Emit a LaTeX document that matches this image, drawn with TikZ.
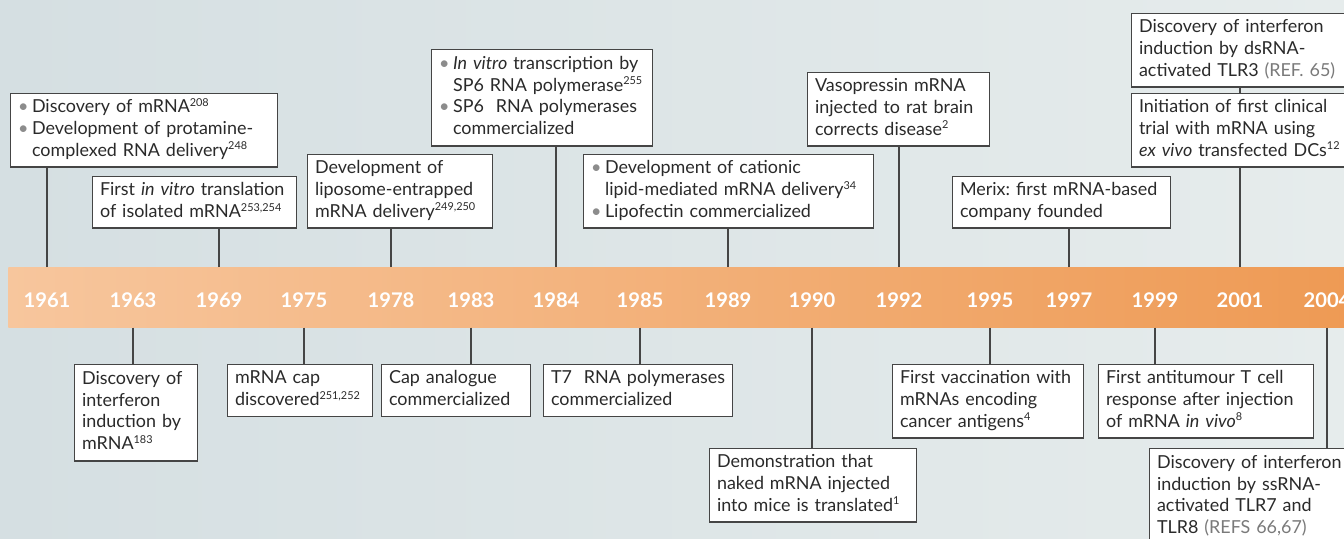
\documentclass[tikz,border=0pt]{standalone}
\usepackage{fontspec}
\setmainfont{Lato}
\frenchspacing
\definecolor{bgleft}{HTML}{D5DFE2}
\definecolor{bgright}{HTML}{E6ECEC}
\definecolor{bandleft}{HTML}{F7C69D}
\definecolor{bandright}{HTML}{EE9A54}
\definecolor{boxgrey}{HTML}{454545}
\definecolor{txt}{HTML}{2A2A2A}
\definecolor{refgrey}{HTML}{7A7A7A}
\definecolor{dotgrey}{HTML}{8C8C8C}
\newcommand\lns[1]{\begin{tabular}{@{}l@{}}#1\end{tabular}}
\newcommand\dotitem{\makebox[0.28cm][l]{\textcolor{dotgrey}{\textbullet}}}
\newcommand\indt{\hspace*{0.28cm}}
\newcommand\sref[1]{\raisebox{0.36em}{\fontsize{6.2}{7}\selectfont #1}}
\newcommand\gref[1]{\textcolor{refgrey}{#1}}
\begin{document}
\begin{tikzpicture}[x=0.02cm, y=-0.02cm,
  evt/.style={draw=boxgrey, line width=0.6pt, fill=white, text=txt, align=left, anchor=north west,
    inner xsep=0.15cm, inner ysep=2pt, font=\fontsize{10.2}{12.35}\selectfont},
  two/.style={minimum height=1.03cm},
  three/.style={minimum height=1.47cm},
  four/.style={minimum height=1.93cm},
  yr/.style={text=white, anchor=base, font=\fontsize{11.5}{13}\selectfont\bfseries},
  tick/.style={draw=boxgrey, line width=0.6pt}]
\useasboundingbox (0,0) rectangle (1344,538);
\clip (0,0) rectangle (1344,538);
\fill[left color=bgleft, right color=bgright] (0,0) rectangle (1344,538);
\node[left color=bandleft, right color=bandright, anchor=north west, inner sep=0pt,
  minimum width=26.92cm, minimum height=1.2cm] (band) at (8,267) {};

\node[yr] (y1961) at (47,307) {1961};
\node[yr] (y1963) at (133,307) {1963};
\node[yr] (y1969) at (219,307) {1969};
\node[yr] (y1975) at (304,307) {1975};
\node[yr] (y1978) at (391,307) {1978};
\node[yr] (y1983) at (471,307) {1983};
\node[yr] (y1984) at (556,307) {1984};
\node[yr] (y1985) at (640,307) {1985};
\node[yr] (y1989) at (728,307) {1989};
\node[yr] (y1990) at (812,307) {1990};
\node[yr] (y1992) at (899,307) {1992};
\node[yr] (y1995) at (990,307) {1995};
\node[yr] (y1997) at (1069,307) {1997};
\node[yr] (y1999) at (1155,307) {1999};
\node[yr] (y2001) at (1240,307) {2001};
\node[yr] (y2004) at (1327,307) {2004};

\node[evt, three, text width=5.04cm] (mrna) at (10,93) {\lns{\dotitem Discovery of mRNA\sref{208}\\ \dotitem Development of protamine-\\ \indt complexed RNA delivery\sref{248}}};
\node[evt, two, text width=3.78cm] (transl) at (92,176) {\lns{First \textit{in vitro} translation\\ of isolated mRNA\sref{253,254}}};
\node[evt, three, text width=3.40cm] (lipo) at (307,154) {\lns{Development of\\ liposome-entrapped\\ mRNA delivery\sref{249,250}}};
\node[evt, four, text width=4.12cm] (sp6) at (431,49) {\lns{\dotitem \textit{In vitro} transcription by\\ \indt SP6 RNA polymerase\sref{255}\\ \dotitem SP6\ \ RNA polymerases\\ \indt commercialized}};
\node[evt, three, text width=5.50cm] (cation) at (583,154) {\lns{\dotitem Development of cationic\\ \indt lipid-mediated mRNA delivery\sref{34}\\ \dotitem Lipofectin commercialized}};
\node[evt, three, text width=3.34cm] (vaso) at (807,72) {\lns{Vasopressin mRNA\\ injected to rat brain\\ corrects disease\sref{2}}};
\node[evt, two, text width=4.06cm] (merix) at (952,176) {\lns{Merix: first mRNA-based\\ company founded}};
\node[evt, three, text width=4.08cm] (tlr3) at (1131,13) {\lns{Discovery of interferon\\ induction by dsRNA-\\ activated TLR3 \gref{(REF. 65)}}};
\node[evt, three, text width=4.08cm] (trial) at (1131,93) {\lns{Initiation of first clinical\\ trial with mRNA using\\ \textit{ex vivo} transfected DCs\sref{12}}};

\node[evt, four, text width=2.16cm] (ifn) at (74,364) {\lns{Discovery of\\ interferon\\ induction by\\ mRNA\sref{183}}};
\node[evt, two, text width=2.60cm] (cap) at (227,364) {\lns{mRNA cap\\ discovered\sref{251,252}}};
\node[evt, two, text width=2.68cm] (capan) at (381,364) {\lns{Cap analogue\\ commercialized}};
\node[evt, two, text width=3.48cm] (t7) at (543,364) {\lns{T7\ \ RNA polymerases\\ commercialized}};
\node[evt, three, text width=3.84cm] (naked) at (709,448) {\lns{Demonstration that\\ naked mRNA injected\\ into mice is translated\sref{1}}};
\node[evt, three, text width=3.52cm] (vacc) at (892,364) {\lns{First vaccination with\\ mRNAs encoding\\ cancer antigens\sref{4}}};
\node[evt, three, text width=4.00cm] (tcell) at (1098,364) {\lns{First antitumour T cell\\ response after injection\\ of mRNA \textit{in vivo}\sref{8}}};
\node[evt, four, text width=3.80cm] (tlr7) at (1149,448) {\lns{Discovery of interferon\\ induction by ssRNA-\\ activated TLR7 and\\ TLR8 \gref{(REFS 66,67)}}};

\path[tick] (y1961 |- band.north) edge (y1961 |- mrna.south);
\path[tick] (y1969 |- band.north) edge (y1969 |- transl.south);
\path[tick] (y1978 |- band.north) edge (y1978 |- lipo.south);
\path[tick] (y1984 |- band.north) edge (y1984 |- sp6.south);
\path[tick] (y1989 |- band.north) edge (y1989 |- cation.south);
\path[tick] (y1992 |- band.north) edge (y1992 |- vaso.south);
\path[tick] (y1997 |- band.north) edge (y1997 |- merix.south);
\path[tick] (y2001 |- band.north) edge (y2001 |- trial.south);
\path[tick] (y2001 |- trial.north) edge (y2001 |- tlr3.south);
\path[tick] (y1963 |- band.south) edge (y1963 |- ifn.north);
\path[tick] (y1975 |- band.south) edge (y1975 |- cap.north);
\path[tick] (y1983 |- band.south) edge (y1983 |- capan.north);
\path[tick] (y1985 |- band.south) edge (y1985 |- t7.north);
\path[tick] (y1990 |- band.south) edge (y1990 |- naked.north);
\path[tick] (y1995 |- band.south) edge (y1995 |- vacc.north);
\path[tick] (y1999 |- band.south) edge (y1999 |- tcell.north);
\path[tick] (y2004 |- band.south) edge (y2004 |- tlr7.north);
\end{tikzpicture}
\end{document}
